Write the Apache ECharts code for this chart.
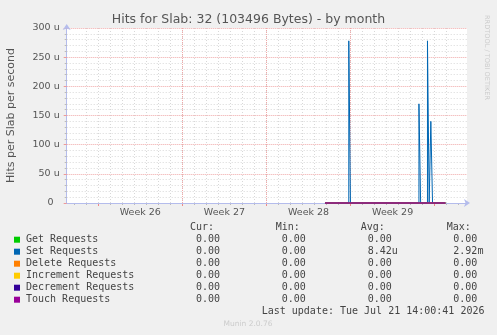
<!DOCTYPE html>
<html><head><meta charset="utf-8">
<script src="https://cdn.jsdelivr.net/npm/echarts@6/dist/echarts.min.js"></script>
<style>html,body{margin:0;padding:0;background:#f0f0f0}#c{width:497px;height:335px}</style>
</head><body><div id="c"></div>
<script>
// x values: days since Monday 2026-06-22 00:00 (start of Week 26)
const xMin = -2.63, xMax = 30.69;
const weekStarts = [0, 7, 14, 21, 28];
const weekLabelPos = [3.5, 10.5, 17.5, 24.5];
const weekLabels = ['Week 26', 'Week 27', 'Week 28', 'Week 29'];

// period with data (all series flat at 0 except Set)
const dataStart = 18.87, dataEnd = 28.9;
// Set Requests: narrow pulses
const setTimes  = [18.87, 20.85, 20.85, 20.99, 20.99, 26.69, 26.69, 26.83, 26.83, 27.40, 27.40, 27.54, 27.54, 27.68, 27.68, 27.82, 27.82, 28.9];
const setValues = [0, 0, 278, 278, 0, 0, 170, 170, 0, 0, 278, 278, 0, 0, 140, 140, 0, 0];
const zeroTimes = [dataStart, dataEnd];
const zeroValues = [0, 0];

const seriesNames = ['Get Requests', 'Set Requests', 'Delete Requests', 'Increment Requests', 'Decrement Requests', 'Touch Requests'];
const curVals = ['0.00', '0.00', '0.00', '0.00', '0.00', '0.00'];
const minVals = ['0.00', '0.00', '0.00', '0.00', '0.00', '0.00'];
const avgVals = ['0.00', '8.42u', '0.00', '0.00', '0.00', '0.00'];
const maxVals = ['0.00', '2.92m', '0.00', '0.00', '0.00', '0.00'];
const colors = ['#00cc00', '#0066b3', '#ff8000', '#ffcc00', '#330099', '#990099'];

const titleText = 'Hits for Slab: 32 (103496 Bytes) - by month';
const yName = 'Hits per Slab per second';
const lastUpdate = 'Last update: Tue Jul 21 14:00:41 2026';
const footer = 'Munin 2.0.76';
const sideText = 'RRDTOOL / TOBI OETIKER';

const zip = (xs, ys) => xs.map((x, i) => [x, ys[i]]);

const axisColor = '#b4bcec';
const gray = '#d8d8d8';
const red = '#f0a8a8';
const mono = '"DejaVu Sans Mono", monospace';
const sans = '"DejaVu Sans", sans-serif';

// layout of plot area
const left0 = 66.7, right0 = 30, top0 = 28, bottom0 = 132;
const pxPerDay = (497 - right0 - left0) / (xMax - xMin);
const dayMin = Math.floor(xMin);
const weekMin = Math.floor(xMin / 7) * 7;
const left1 = left0 - (xMin - dayMin) * pxPerDay;
const left2 = left0 - (xMin - weekMin) * pxPerDay;
const dayTicks = [];
for (let d = Math.ceil(xMin); d <= Math.floor(xMax); d++) dayTicks.push(d);

const series = seriesNames.map((name, i) => ({
  name, type: 'line', xAxisIndex: 0, yAxisIndex: 0,
  data: i === 1 ? zip(setTimes, setValues) : zip(zeroTimes, zeroValues),
  showSymbol: false, symbol: 'none', clip: false, animation: false,
  lineStyle: { color: colors[i], width: 1 }, z: 10 + i
}));

const graphic = [];
graphic.push({ type: 'text', x: 248.5, y: 19.5, style: { text: titleText, font: '12.5px ' + sans, fill: '#555', align: 'center', verticalAlign: 'middle' } });
graphic.push({ type: 'text', x: 487, y: 57.5, rotation: -Math.PI / 2, style: { text: sideText, font: '6.6px ' + sans, fill: '#cccccc', align: 'center', verticalAlign: 'middle' } });
const headerY = 227.7, rowY0 = 239.7, rowH = 12;
const colX = { curH: 190, cur: 196, minH: 275.7, min: 281.7, avgH: 360.7, avg: 367.7, maxH: 446.7, max: 453.3 };
const txt = (x, y, t) => ({ type: 'text', x, y, style: { text: t, font: '10px ' + mono, fill: '#444', align: 'left', verticalAlign: 'middle' } });
graphic.push(txt(colX.curH, headerY, 'Cur:'));
graphic.push(txt(colX.minH, headerY, 'Min:'));
graphic.push(txt(colX.avgH, headerY, 'Avg:'));
graphic.push(txt(colX.maxH, headerY, 'Max:'));
seriesNames.forEach((n, i) => {
  const y = rowY0 + i * rowH;
  graphic.push({ type: 'rect', shape: { x: 14, y: y - 3, width: 6, height: 6 }, style: { fill: colors[i] } });
  graphic.push(txt(26, y, n));
  graphic.push(txt(colX.cur, y, curVals[i]));
  graphic.push(txt(colX.min, y, minVals[i]));
  graphic.push(txt(colX.avg, y, avgVals[i]));
  graphic.push(txt(colX.max, y, maxVals[i]));
});
graphic.push(txt(261.7, 311.3, lastUpdate));
graphic.push({ type: 'text', x: 248, y: 324, style: { text: footer, font: '7.5px ' + sans, fill: '#cccccc', align: 'center', verticalAlign: 'middle' } });

const hiddenY = (gi) => ({ type: 'value', gridIndex: gi, min: 0, max: 300, show: false, splitLine: { show: false } });

const chart = echarts.init(document.getElementById('c'), null, { renderer: 'canvas' });
chart.setOption({
  backgroundColor: '#f0f0f0',
  animation: false,
  grid: [
    { left: left0, right: right0, top: top0, bottom: bottom0, show: true, backgroundColor: '#ffffff', borderWidth: 0, z: 0, containLabel: false, outerBoundsMode: 'none' },
    { left: left1, right: right0, top: top0, bottom: bottom0, show: false, containLabel: false, outerBoundsMode: 'none' },
    { left: left2, right: right0, top: top0, bottom: bottom0, show: false, containLabel: false, outerBoundsMode: 'none' }
  ],
  xAxis: [
    {
      type: 'value', gridIndex: 0, min: xMin, max: xMax, position: 'bottom',
      axisLine: { show: true, onZero: false, lineStyle: { color: axisColor, width: 1 }, symbol: ['none', 'arrow'], symbolSize: [6, 6], symbolOffset: [0, 3] },
      axisTick: { show: false },
      axisLabel: { show: true, customValues: weekLabelPos, formatter: v => weekLabels[weekLabelPos.indexOf(v)] || '', color: '#555', fontSize: 9.5, fontFamily: 'DejaVu Sans', margin: 5 },
      splitLine: { show: false },
      z: 5
    },
    {
      type: 'value', gridIndex: 1, min: dayMin, max: xMax, interval: 1, position: 'bottom',
      axisLine: { show: false, onZero: false },
      axisTick: { show: true, length: 2, customValues: dayTicks, lineStyle: { color: '#bbbbbb' } },
      axisLabel: { show: false },
      splitLine: { show: true, showMinLine: false, showMaxLine: false, lineStyle: { color: gray, type: [1, 2], width: 1 } },
      z: 1
    },
    {
      type: 'value', gridIndex: 2, min: weekMin, max: xMax, interval: 7, position: 'bottom',
      axisLine: { show: false, onZero: false },
      axisTick: { show: true, length: 3, customValues: weekStarts, lineStyle: { color: '#ee8888' } },
      axisLabel: { show: false },
      splitLine: { show: true, showMinLine: false, showMaxLine: false, lineStyle: { color: red, type: [1, 1], width: 1 } },
      z: 2
    }
  ],
  yAxis: [
    {
      type: 'value', gridIndex: 0, min: 0, max: 300, interval: 50,
      name: yName, nameLocation: 'middle', nameGap: 50, nameRotate: 90,
      nameTextStyle: { color: '#555', fontSize: 11, fontFamily: 'DejaVu Sans' },
      axisLine: { show: true, onZero: false, lineStyle: { color: axisColor, width: 1 }, symbol: ['none', 'arrow'], symbolSize: [6, 6], symbolOffset: [0, 4] },
      axisTick: { show: true, length: 3, lineStyle: { color: '#ee9999' } },
      minorTick: { show: true, splitNumber: 5, length: 2, lineStyle: { color: '#bbbbbb' } },
      axisLabel: { formatter: v => v === 0 ? '0  ' : v + ' u', color: '#555', fontSize: 9.5, fontFamily: 'DejaVu Sans', margin: 7 },
      splitLine: { show: true, showMinLine: false, lineStyle: { color: red, type: [1, 1], width: 1 } },
      minorSplitLine: { show: true, lineStyle: { color: gray, type: [1, 2], width: 1 } },
      z: 5
    },
    hiddenY(1),
    hiddenY(2)
  ],
  series,
  graphic
});
</script>
</body></html>
